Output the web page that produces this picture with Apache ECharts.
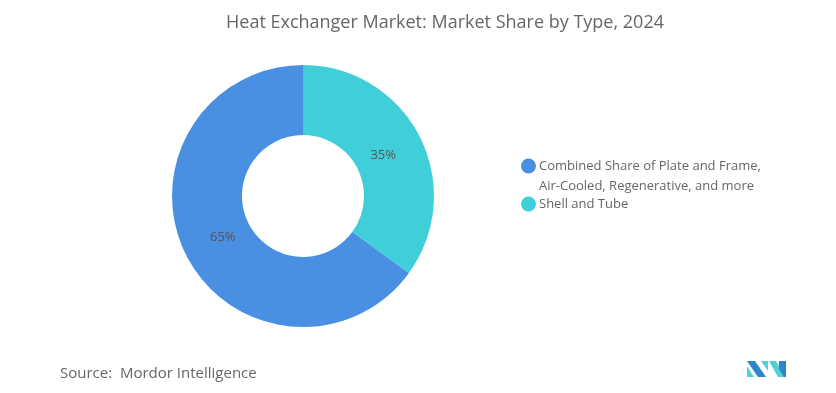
<!DOCTYPE html>
<html><head><meta charset="utf-8">
<script src="https://cdn.jsdelivr.net/npm/echarts@6/dist/echarts.min.js"></script>
<style>html,body{margin:0;padding:0;background:#fff}#c{width:836px;height:393px}</style>
</head><body><div id="c"></div>
<script>
const titleText = 'Heat Exchanger Market: Market Share by Type, 2024';
const categories = ['Combined Share of Plate and Frame,\nAir-Cooled, Regenerative, and more', 'Shell and Tube'];
const values = [65, 35];
const colors = ['#4A90E2', '#40CFD9'];
const sourceText = 'Source:  Mordor Intelligence';

const FONT = 'Open Sans';
const chart = echarts.init(document.getElementById('c'));
const data = categories.map((n, i) => ({ name: n, value: values[i], itemStyle: { color: colors[i] } }));
chart.setOption({
  animation: false,
  title: { text: titleText, left: 221, top: 9,
    textStyle: { fontFamily: FONT, fontSize: 18, fontWeight: 'normal', color: '#666' } },
  legend: {
    orient: 'vertical', left: 516, top: 131, itemWidth: 15, itemHeight: 15, itemGap: -2, icon: 'circle',
    textStyle: { fontFamily: FONT, fontSize: 13, color: '#666', lineHeight: 20, padding: [0,0,0,-2] },
    formatter: function (name) { return name.indexOf('\n') >= 0 ? '\n' + name : name; },
    data: categories
  },
  series: [{
    type: 'pie', center: [303, 196], radius: [61, 131], clockwise: false, startAngle: 90,
    label: { show: false }, labelLine: { show: false }, emphasis: { disabled: true },
    data: data
  }, {
    type: 'pie', center: [303, 196], radius: [61, 113], clockwise: false, startAngle: 90,
    silent: true, legendHoverLink: false,
    itemStyle: { color: 'rgba(0,0,0,0)' },
    label: { show: true, position: 'inside', formatter: '{c}%', fontFamily: FONT, fontSize: 13, color: '#555' },
    labelLine: { show: false }, emphasis: { disabled: true },
    data: categories.map((n, i) => ({ name: n + ' ', value: values[i] }))
  }],
  graphic: [
    { type: 'text', left: 60, top: 366, style: { text: sourceText, fontFamily: FONT, fontSize: 15, fill: '#666' } },
    { type: 'polygon', shape: { points: [[747,366],[747,377],[754,377]] }, style: { fill: '#4FD1D6' } },
    { type: 'polygon', shape: { points: [[747,361],[755,361],[766,377],[758,377]] }, style: { fill: '#2E86C8' } },
    { type: 'polygon', shape: { points: [[761,361],[768,361],[768,371]] }, style: { fill: '#4FD1D6' } },
    { type: 'polygon', shape: { points: [[769,361],[776,361],[785,377],[778,377]] }, style: { fill: '#4FD1D6' } },
    { type: 'polygon', shape: { points: [[779,361],[786,361],[786,377],[784,377],[779,369]] }, style: { fill: '#2E86C8' } }
  ]
});
</script></body></html>
